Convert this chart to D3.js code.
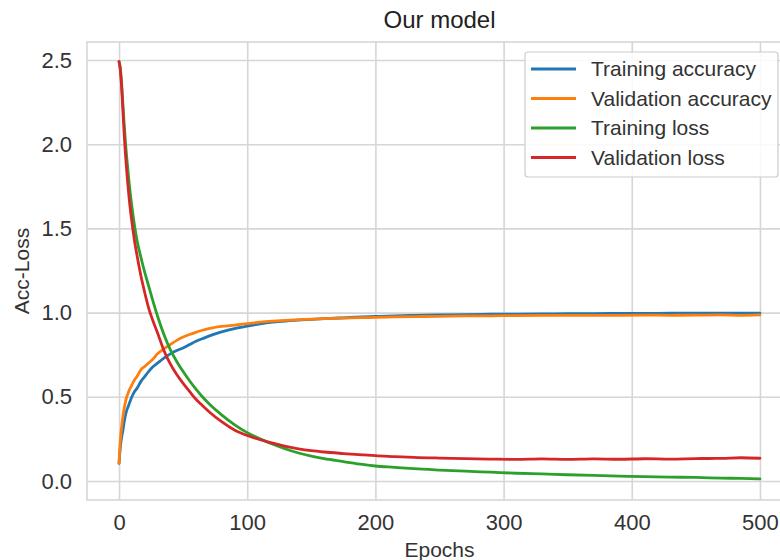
<!DOCTYPE html>
<html>
<head>
<meta charset="utf-8">
<script src="https://cdn.jsdelivr.net/npm/d3@7"></script>
<style>
  html, body { margin: 0; padding: 0; background: #fff; }
  svg { display: block; font-family: "Liberation Sans", Arial, sans-serif; }
</style>
</head>
<body>
<svg id="chart" width="780" height="560"></svg>
<script>
// ---- data ----
const epochs = [0,1,2,3,4,5,6,7,8,10,12,14,17,20,23,26,30,35,40,45,50,55,60,65,70,80,90,100,110,120,130,140,150,160,175,190,200,215,230,250,270,290,310,330,350,370,390,410,430,450,470,485,500];

const trainAcc = [0.105,0.20,0.26,0.30,0.35,0.39,0.42,0.44,0.46,0.50,0.53,0.55,0.59,0.62,0.65,0.675,0.70,0.73,0.755,0.775,0.79,0.81,0.83,0.845,0.86,0.885,0.905,0.92,0.933,0.943,0.95,0.955,0.96,0.964,0.969,0.974,0.977,0.981,0.983,0.986,0.988,0.99,0.991,0.992,0.993,0.994,0.995,0.995,0.996,0.996,0.997,0.997,0.997];

const valAcc = [0.105,0.24,0.32,0.38,0.43,0.47,0.50,0.52,0.54,0.57,0.60,0.62,0.66,0.68,0.70,0.72,0.755,0.785,0.81,0.835,0.855,0.87,0.883,0.895,0.905,0.918,0.926,0.935,0.943,0.949,0.954,0.958,0.961,0.964,0.967,0.97,0.971,0.974,0.976,0.978,0.98,0.981,0.982,0.983,0.983,0.984,0.984,0.985,0.984,0.985,0.986,0.984,0.986];

const trainLoss = [2.49,2.45,2.36,2.24,2.12,2.01,1.92,1.84,1.76,1.63,1.52,1.43,1.33,1.24,1.16,1.08,0.98,0.87,0.78,0.71,0.65,0.595,0.545,0.50,0.46,0.393,0.335,0.287,0.25,0.218,0.19,0.166,0.147,0.132,0.115,0.098,0.089,0.081,0.073,0.065,0.058,0.052,0.046,0.042,0.037,0.033,0.029,0.026,0.023,0.021,0.017,0.015,0.012];

const valLoss = [2.49,2.44,2.34,2.20,2.06,1.94,1.84,1.75,1.67,1.54,1.43,1.34,1.22,1.12,1.03,0.96,0.88,0.775,0.695,0.632,0.58,0.532,0.485,0.448,0.413,0.352,0.303,0.27,0.245,0.225,0.206,0.191,0.18,0.172,0.163,0.155,0.15,0.145,0.14,0.136,0.133,0.13,0.128,0.131,0.128,0.131,0.129,0.132,0.13,0.133,0.134,0.138,0.135];

const seriesNames = ["Training accuracy","Validation accuracy","Training loss","Validation loss"];
const seriesColors = ["#1f77b4","#ff7f0e","#2ca02c","#d62728"];
const seriesValues = [trainAcc, valAcc, trainLoss, valLoss];

const xTicks = [0,100,200,300,400,500];
const yTicks = [0,0.5,1.0,1.5,2.0,2.5];

// ---- layout ----
const svg = d3.select("#chart");
const L = 87, R = 792, T = 42, B = 500;

const x = d3.scaleLinear().domain([-25, 525]).range([L, R]);
const y = d3.scaleLinear().domain([-0.113, 2.607]).range([B, T]);

const gridColor = "#d6d6d6";
const textColor = "#333333";

svg.append("rect").attr("x", L).attr("y", T).attr("width", R - L).attr("height", B - T)
  .attr("fill", "#ffffff");

const gx = svg.append("g").attr("transform", `translate(0,${B})`)
  .call(d3.axisBottom(x).tickValues(xTicks).tickSize(-(B - T)).tickPadding(11).tickFormat(d3.format("d")));
const gy = svg.append("g").attr("transform", `translate(${L},0)`)
  .call(d3.axisLeft(y).tickValues(yTicks).tickSize(-(R - L)).tickPadding(15).tickFormat(d3.format(".1f")));

[gx, gy].forEach(g => {
  g.select(".domain").remove();
  g.selectAll(".tick line").attr("stroke", gridColor).attr("stroke-width", 1.6);
  g.selectAll(".tick text").attr("fill", textColor).style("font-size", "22px");
});
gx.selectAll(".tick text").attr("dy", "0.85em");

svg.append("rect").attr("x", L).attr("y", T).attr("width", R - L).attr("height", B - T)
  .attr("fill", "none").attr("stroke", gridColor).attr("stroke-width", 1.6);

const line = d3.line().curve(d3.curveMonotoneX);
seriesValues.forEach((vals, i) => {
  svg.append("path")
    .datum(epochs.map((e, j) => [x(e), y(vals[j])]))
    .attr("fill", "none")
    .attr("stroke", seriesColors[i])
    .attr("stroke-width", 2.8)
    .attr("stroke-linejoin", "round")
    .attr("stroke-linecap", "round")
    .attr("d", line);
});

svg.append("text").attr("x", (L + R) / 2).attr("y", 28).attr("text-anchor", "middle")
  .attr("fill", "#222").style("font-size", "24px").text("Our model");
svg.append("text").attr("x", (L + R) / 2).attr("y", 557).attr("text-anchor", "middle")
  .attr("fill", textColor).style("font-size", "21px").text("Epochs");
svg.append("text").attr("transform", `translate(29,${(T + B) / 2}) rotate(-90)`).attr("text-anchor", "middle")
  .attr("fill", textColor).style("font-size", "21px").text("Acc-Loss");

const lg = svg.append("g");
lg.append("rect").attr("x", 525).attr("y", 52).attr("width", 253).attr("height", 125)
  .attr("rx", 3).attr("fill", "#ffffff").attr("fill-opacity", 0.85)
  .attr("stroke", "#cccccc").attr("stroke-width", 1.2);
seriesNames.forEach((name, i) => {
  const yy = 69 + i * 29.5;
  lg.append("line").attr("x1", 531).attr("x2", 576).attr("y1", yy).attr("y2", yy)
    .attr("stroke", seriesColors[i]).attr("stroke-width", 2.8);
  lg.append("text").attr("x", 591).attr("y", yy).attr("dy", "0.35em")
    .attr("fill", textColor).style("font-size", "21px").text(name);
});
</script>
</body>
</html>
